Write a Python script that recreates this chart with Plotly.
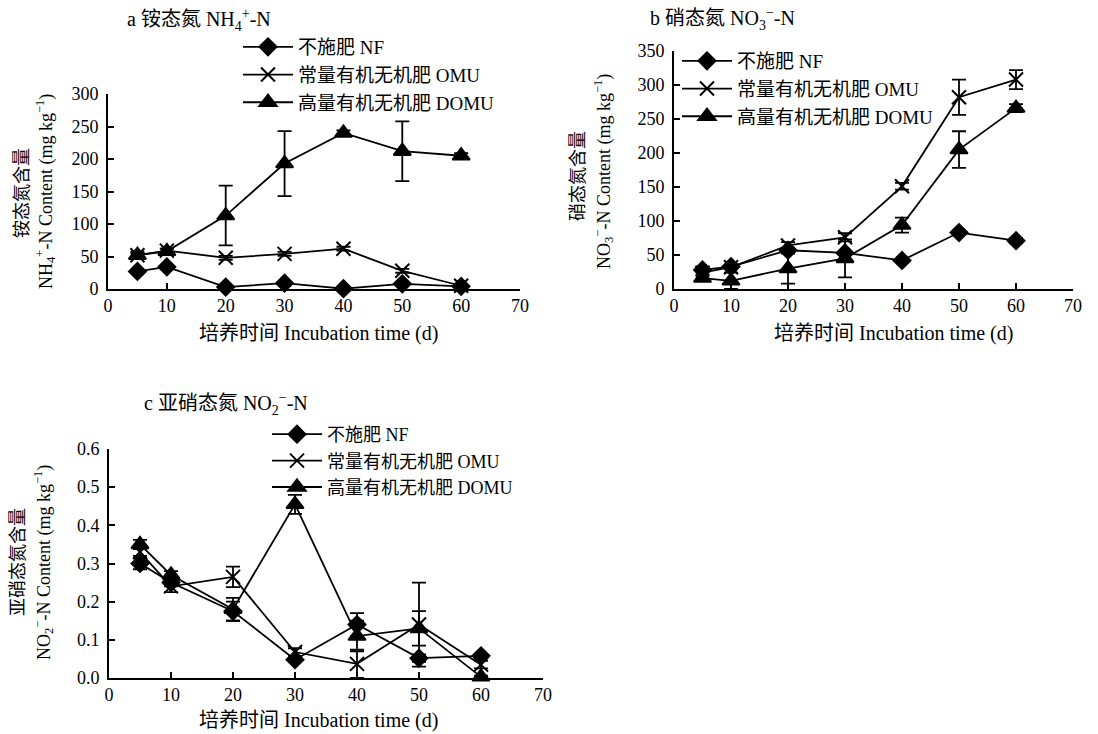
import plotly.graph_objects as go

days = [5, 10, 20, 30, 40, 50, 60]
series_names = ["不施肥 NF", "常量有机无机肥 OMU", "高量有机无机肥 DOMU"]

# Panel a: NH4+-N (mg/kg)
a_nf = [27, 34, 3, 9, 0.5, 8, 4]
a_nf_err = [2, 2, 1, 1, 0.5, 1, 1]
a_omu = [52, 59, 48, 54, 62, 28, 5]
a_omu_err = [3, 3, 3, 3, 3, 3, 2]
a_domu = [52, 58, 113, 193, 240, 212, 205]
a_domu_err = [5, 4, 46, 50, 4, 46, 4]

# Panel b: NO3--N (mg/kg)
b_nf = [28, 33, 57, 53, 42, 83, 71]
b_nf_err = [2, 2, 3, 3, 2, 3, 4]
b_omu = [24, 32, 64, 76, 151, 282, 308]
b_omu_err = [3, 3, 5, 6, 5, 26, 14]
b_domu = [16, 12, 30, 45, 94, 205, 266]
b_domu_err = [3, 12, 22, 28, 11, 27, 6]

# Panel c: NO2--N (mg/kg)
c_nf = [0.30, 0.25, 0.175, 0.048, 0.14, 0.052, 0.058]
c_nf_err = [0.015, 0.01, 0.025, 0.005, 0.03, 0.01, 0.005]
c_omu = [0.33, 0.24, 0.265, 0.068, 0.037, 0.14, 0.035]
c_omu_err = [0.01, 0.015, 0.027, 0.01, 0.037, 0.11, 0.01]
c_domu = [0.35, 0.27, 0.18, 0.455, 0.11, 0.13, 0.003]
c_domu_err = [0.012, 0.01, 0.03, 0.025, 0.04, 0.045, 0.003]

FONT = "Liberation Serif, Times New Roman, Noto Sans CJK SC, serif"
W, H = 1098, 734

symbols = ["diamond", "x-thin", "triangle-up"]
msizes = [13, 14, 15]

fig = go.Figure()

panels = [
    ("x", "y", "legend", [(a_nf, a_nf_err), (a_omu, a_omu_err), (a_domu, a_domu_err)]),
    ("x2", "y2", "legend2", [(b_nf, b_nf_err), (b_omu, b_omu_err), (b_domu, b_domu_err)]),
    ("x3", "y3", "legend3", [(c_nf, c_nf_err), (c_omu, c_omu_err), (c_domu, c_domu_err)]),
]

for xa, ya, lg, data in panels:
    for i, (vals, errs) in enumerate(data):
        fig.add_trace(go.Scatter(
            x=days, y=vals, xaxis=xa, yaxis=ya, legend=lg,
            name=series_names[i], mode="lines+markers",
            line=dict(color="black", width=1.8),
            marker=dict(symbol=symbols[i], size=msizes[i], color="black",
                        line=dict(color="black", width=2)),
            error_y=dict(type="data", array=errs, visible=True,
                         color="black", thickness=1.8, width=7),
            cliponaxis=False,
        ))

def px_x(p):
    return p / W

def px_y(p):
    return 1 - p / H

axis_common = dict(
    showline=True, linecolor="black", linewidth=1.6,
    ticks="inside", ticklen=6, tickwidth=1.6, tickcolor="black",
    showgrid=False, zeroline=False, automargin=False,
    tickfont=dict(family=FONT, size=18, color="black"),
)
y_extra = dict(ticklabelstandoff=4)

layout = dict(
    width=W, height=H,
    margin=dict(l=0, r=0, t=0, b=0, autoexpand=False),
    paper_bgcolor="white", plot_bgcolor="white",
    font=dict(family=FONT, size=18, color="black"),
    xaxis=dict(domain=[px_x(108), px_x(520)], range=[0, 70], dtick=10, anchor="y", **axis_common),
    yaxis=dict(domain=[px_y(289), px_y(94)], range=[0, 300], dtick=50, anchor="x", **axis_common, **y_extra),
    xaxis2=dict(domain=[px_x(674), px_x(1073)], range=[0, 70], dtick=10, anchor="y2", **axis_common),
    yaxis2=dict(domain=[px_y(289), px_y(51)], range=[0, 350], dtick=50, anchor="x2", **axis_common, **y_extra),
    xaxis3=dict(domain=[px_x(109), px_x(543)], range=[0, 70], dtick=10, anchor="y3", **axis_common),
    yaxis3=dict(domain=[px_y(678), px_y(449)], range=[0, 0.6], dtick=0.1, tickformat=".1f", anchor="x3", **axis_common, **y_extra),
)

leg_common = dict(
    bgcolor="rgba(0,0,0,0)", color=None,
    xanchor="left", yanchor="top", tracegroupgap=0, itemwidth=50,
) if False else dict(
    bgcolor="rgba(0,0,0,0)",
    xanchor="left", yanchor="top", tracegroupgap=0, itemwidth=50,
)
layout["legend"] = dict(x=px_x(238), y=px_y(28), font=dict(family=FONT, size=19, color="black"), **leg_common)
layout["legend2"] = dict(x=px_x(677), y=px_y(42), font=dict(family=FONT, size=19, color="black"), **leg_common)
layout["legend3"] = dict(x=px_x(267), y=px_y(416), font=dict(family=FONT, size=18, color="black"), **leg_common)

fig.update_layout(**layout)

ann = []
def add_text(text, x, y, angle=0, size=18):
    ann.append(dict(text=text, x=px_x(x), y=px_y(y), xref="paper", yref="paper",
                    showarrow=False, textangle=angle, xanchor="center", yanchor="middle",
                    font=dict(family=FONT, size=size, color="black")))

# panel titles
add_text("a 铵态氮 NH<sub>4</sub><sup>+</sup>-N", 199, 20, size=20)
add_text("b 硝态氮 NO<sub>3</sub><sup>−</sup>-N", 722, 19, size=20)
add_text("c 亚硝态氮 NO<sub>2</sub><sup>−</sup>-N", 226, 404, size=20)

# x titles
add_text("培养时间 Incubation time (d)", 318, 333, size=20)
add_text("培养时间 Incubation time (d)", 893, 333, size=20)
add_text("培养时间 Incubation time (d)", 318, 720, size=20)

# y titles
add_text("铵态氮含量", 22, 193, -90, 18)
add_text("NH<sub>4</sub><sup>+</sup>-N Content (mg kg<sup>−1</sup>)", 46, 192, -90, 18)
add_text("硝态氮含量", 578, 176, -90, 18)
add_text("NO<sub>3</sub><sup>−</sup>-N Content (mg kg<sup>−1</sup>)", 603, 172, -90, 18)
add_text("亚硝态氮含量", 18, 562, -90, 18)
add_text("NO<sub>2</sub><sup>−</sup>-N Content (mg kg<sup>−1</sup>)", 43, 563, -90, 18)

fig.update_layout(annotations=ann)

fig.write_html("out.html", config={"displayModeBar": False},
               post_script="document.body.style.margin='0';document.body.style.overflow='hidden';")
